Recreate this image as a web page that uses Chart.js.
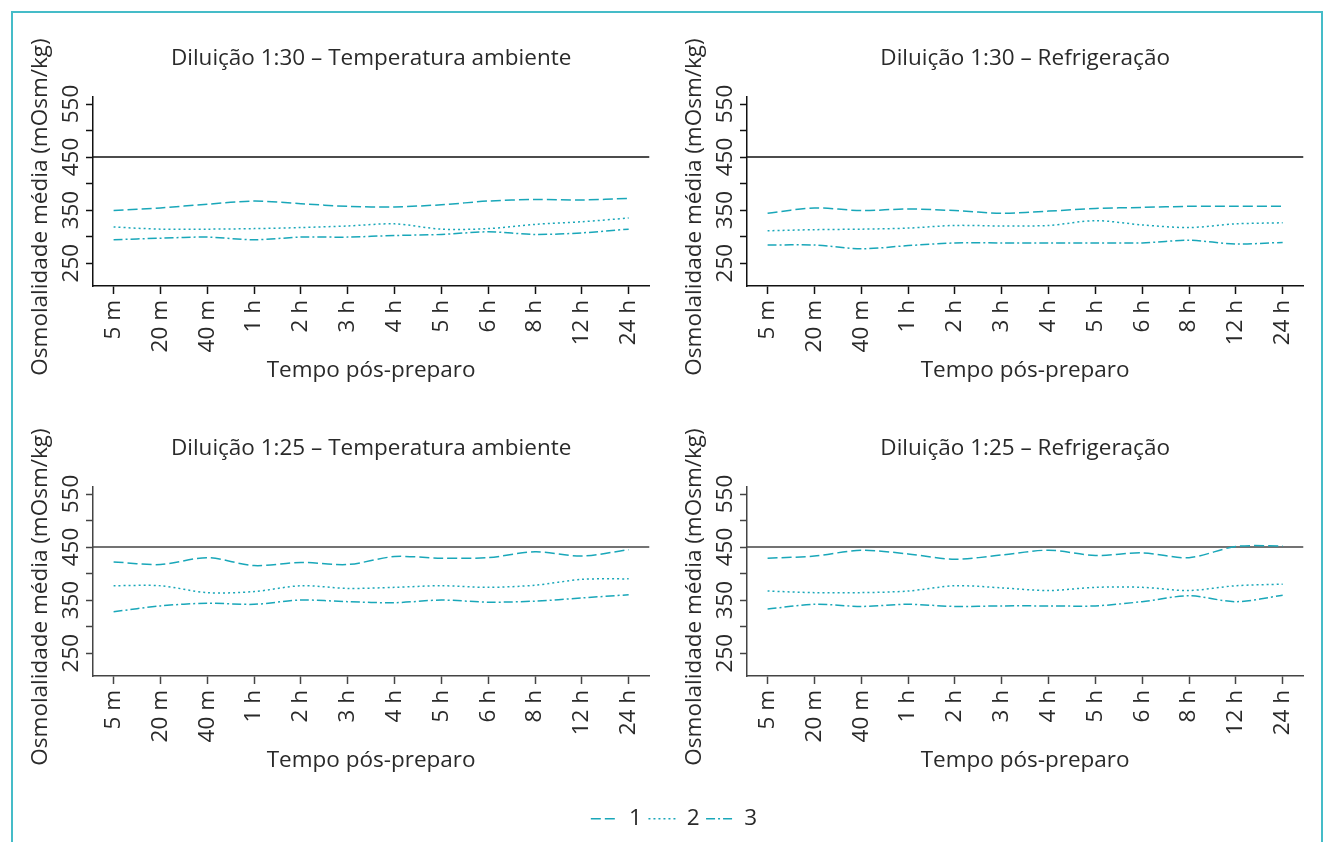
<!DOCTYPE html>
<html lang="pt-BR">
<head>
<meta charset="utf-8">
<title>Osmolalidade média por tempo pós-preparo</title>
<script src="https://cdn.jsdelivr.net/npm/chart.js@4.4.1/dist/chart.umd.min.js"></script>
<style>
  html, body { margin: 0; padding: 0; background: #fff; }
  body { width: 1330px; height: 842px; position: relative; overflow: hidden; }
  .moldura { position: absolute; left: 11px; top: 11px; width: 1312px; height: 880px; border: 2px solid #45bcc8; box-sizing: border-box; }
  canvas { position: absolute; }
</style>
</head>
<body>
<div class="moldura"></div>
<canvas id="p1" width="650" height="390" style="left:12px;top:12px"></canvas>
<canvas id="p2" width="650" height="390" style="left:666px;top:12px"></canvas>
<canvas id="p3" width="650" height="390" style="left:12px;top:402px"></canvas>
<canvas id="p4" width="650" height="390" style="left:666px;top:402px"></canvas>
<canvas id="legenda" width="1300" height="100" style="left:24px;top:801px"></canvas>
<script>
// === Dados ===
const tempos = ['5 m', '20 m', '40 m', '1 h', '2 h', '3 h', '4 h', '5 h', '6 h', '8 h', '12 h', '24 h'];
const marcasY = [250, 300, 350, 400, 450, 500, 550];
const rotulosY = [250, 350, 450, 550];
const limiteReferencia = 450;
const nomesSeries = ['1', '2', '3'];

// Diluição 1:30 – Temperatura ambiente
const d30AmbS1 = [349, 354, 361, 367, 362, 357, 356, 360, 367, 370, 369, 372];
const d30AmbS2 = [318, 314, 314, 315, 317, 320, 324, 314, 315, 323, 328, 335];
const d30AmbS3 = [294, 297, 299, 294, 299, 299, 302, 304, 309, 304, 307, 314];

// Diluição 1:30 – Refrigeração
const d30RefS1 = [344, 354, 349, 352, 349, 344, 348, 353, 355, 357, 357, 357];
const d30RefS2 = [311, 313, 314, 316, 321, 320, 321, 330, 322, 317, 324, 326];
const d30RefS3 = [284, 284, 277, 283, 288, 288, 288, 288, 288, 293, 286, 289];

// Diluição 1:25 – Temperatura ambiente
const d25AmbS1 = [422, 417, 430, 415, 421, 417, 432, 429, 430, 441, 433, 445];
const d25AmbS2 = [377, 377, 364, 366, 377, 372, 374, 377, 374, 378, 389, 390];
const d25AmbS3 = [328, 339, 344, 342, 350, 347, 345, 350, 346, 348, 354, 360];

// Diluição 1:25 – Refrigeração
const d25RefS1 = [429, 433, 444, 437, 427, 435, 444, 434, 439, 430, 451, 452];
const d25RefS2 = [367, 364, 364, 367, 377, 373, 368, 374, 374, 368, 377, 380];
const d25RefS3 = [333, 342, 338, 342, 338, 339, 339, 339, 347, 358, 347, 359];

// === Estilo ===
const familia = '"Open Sans", "Noto Sans", sans-serif';
const tamFonte = 22.5;
const corTexto = '#2a2a2a';
const corLinha = '#19a7b9';
const tracos = [[10, 4], [2, 3], [9, 3, 2, 3]];

// Texto do painel (título, títulos dos eixos, rótulos de y) e linha de referência em 450
const textosPainel = {
  id: 'textosPainel',
  beforeDatasetsDraw(chart, args, opts) {
    const { ctx, chartArea: a, scales: { y } } = chart;
    const yRef = y.getPixelForValue(limiteReferencia);
    ctx.save();
    ctx.strokeStyle = opts.corEixo;
    ctx.lineWidth = 1.5;
    ctx.beginPath();
    ctx.moveTo(a.left, yRef);
    ctx.lineTo(a.right, yRef);
    ctx.stroke();
    ctx.restore();
  },
  afterDraw(chart, args, opts) {
    const { ctx, chartArea: a, scales: { y } } = chart;
    const meio = (a.left + a.right) / 2;
    ctx.save();
    ctx.fillStyle = corTexto;
    ctx.font = `${tamFonte}px ${familia}`;
    ctx.textAlign = 'center';
    ctx.textBaseline = 'alphabetic';
    ctx.fillText(opts.titulo, meio, a.top - 32);
    ctx.fillText('Tempo pós-preparo', meio, a.bottom + 91);

    ctx.save();
    ctx.translate(a.left - 46.5, a.top + 110);
    ctx.rotate(-Math.PI / 2);
    ctx.fillText('Osmolalidade média (mOsm/kg)', 0, 0);
    ctx.restore();

    rotulosY.forEach(v => {
      ctx.save();
      ctx.translate(a.left - 15, y.getPixelForValue(v));
      ctx.rotate(-Math.PI / 2);
      ctx.fillText(String(v), 0, 0);
      ctx.restore();
    });
    ctx.restore();
  }
};

function criarPainel(id, titulo, valores, corEixo) {
  return new Chart(document.getElementById(id), {
    type: 'line',
    data: {
      datasets: valores.map((serie, k) => ({
        label: nomesSeries[k],
        data: serie.map((v, i) => ({ x: i, y: v })),
        borderColor: corLinha,
        borderWidth: 1.5,
        borderDash: tracos[k],
        pointRadius: 0,
        tension: 0.3,
        fill: false
      }))
    },
    options: {
      responsive: false,
      animation: false,
      events: [],
      layout: { padding: { top: 85, right: 9, bottom: 0, left: 0 } },
      plugins: {
        legend: { display: false },
        tooltip: { enabled: false },
        textosPainel: { titulo: titulo, corEixo: corEixo }
      },
      scales: {
        x: {
          type: 'linear',
          min: -0.44,
          max: 11.44,
          afterBuildTicks: s => { s.ticks = tempos.map((t, i) => ({ value: i })); },
          afterFit: s => { s.height = 116; },
          ticks: {
            callback: v => tempos[v],
            autoSkip: false,
            minRotation: 90,
            maxRotation: 90,
            padding: 6,
            color: corTexto,
            font: { family: familia, size: tamFonte }
          },
          grid: { drawOnChartArea: false, drawTicks: true, tickLength: 8, tickColor: corEixo, tickWidth: 1.5 },
          border: { display: true, color: corEixo, width: 1.5 }
        },
        y: {
          min: 206.8,
          max: 563.2,
          afterBuildTicks: s => { s.ticks = marcasY.map(v => ({ value: v })); },
          afterFit: s => { s.width = 81; },
          ticks: { display: false },
          grid: { drawOnChartArea: false, drawTicks: true, tickLength: 7, tickColor: corEixo, tickWidth: 1.5 },
          border: { display: true, color: corEixo, width: 1.5 }
        }
      }
    },
    plugins: [textosPainel]
  });
}

// === Os quatro painéis ===
criarPainel('p1', 'Diluição 1:30 – Temperatura ambiente', [d30AmbS1, d30AmbS2, d30AmbS3], '#111');
criarPainel('p2', 'Diluição 1:30 – Refrigeração', [d30RefS1, d30RefS2, d30RefS3], '#111');
criarPainel('p3', 'Diluição 1:25 – Temperatura ambiente', [d25AmbS1, d25AmbS2, d25AmbS3], '#444');
criarPainel('p4', 'Diluição 1:25 – Refrigeração', [d25RefS1, d25RefS2, d25RefS3], '#444');

// === Legenda comum ===
new Chart(document.getElementById('legenda'), {
  type: 'line',
  data: {
    datasets: nomesSeries.map((n, k) => ({
      label: n,
      data: [],
      borderColor: corLinha,
      borderWidth: 1.5,
      borderDash: tracos[k]
    }))
  },
  options: {
    responsive: false,
    animation: false,
    events: [],
    scales: { x: { display: false }, y: { display: false } },
    plugins: {
      tooltip: { enabled: false },
      legend: {
        display: true,
        position: 'top',
        labels: {
          usePointStyle: true,
          pointStyleWidth: 27,
          padding: 6.5,
          color: corTexto,
          font: { family: familia, size: tamFonte },
          // traço de cada série na amostra da legenda
          generateLabels: chart => chart.data.datasets.map((ds, i) => ({
            text: ds.label,
            datasetIndex: i,
            strokeStyle: ds.borderColor,
            fillStyle: ds.borderColor,
            fontColor: corTexto,
            lineWidth: ds.borderWidth,
            lineDash: ds.borderDash,
            pointStyle: 'line',
            hidden: false
          }))
        }
      }
    }
  }
});
</script>
</body>
</html>
